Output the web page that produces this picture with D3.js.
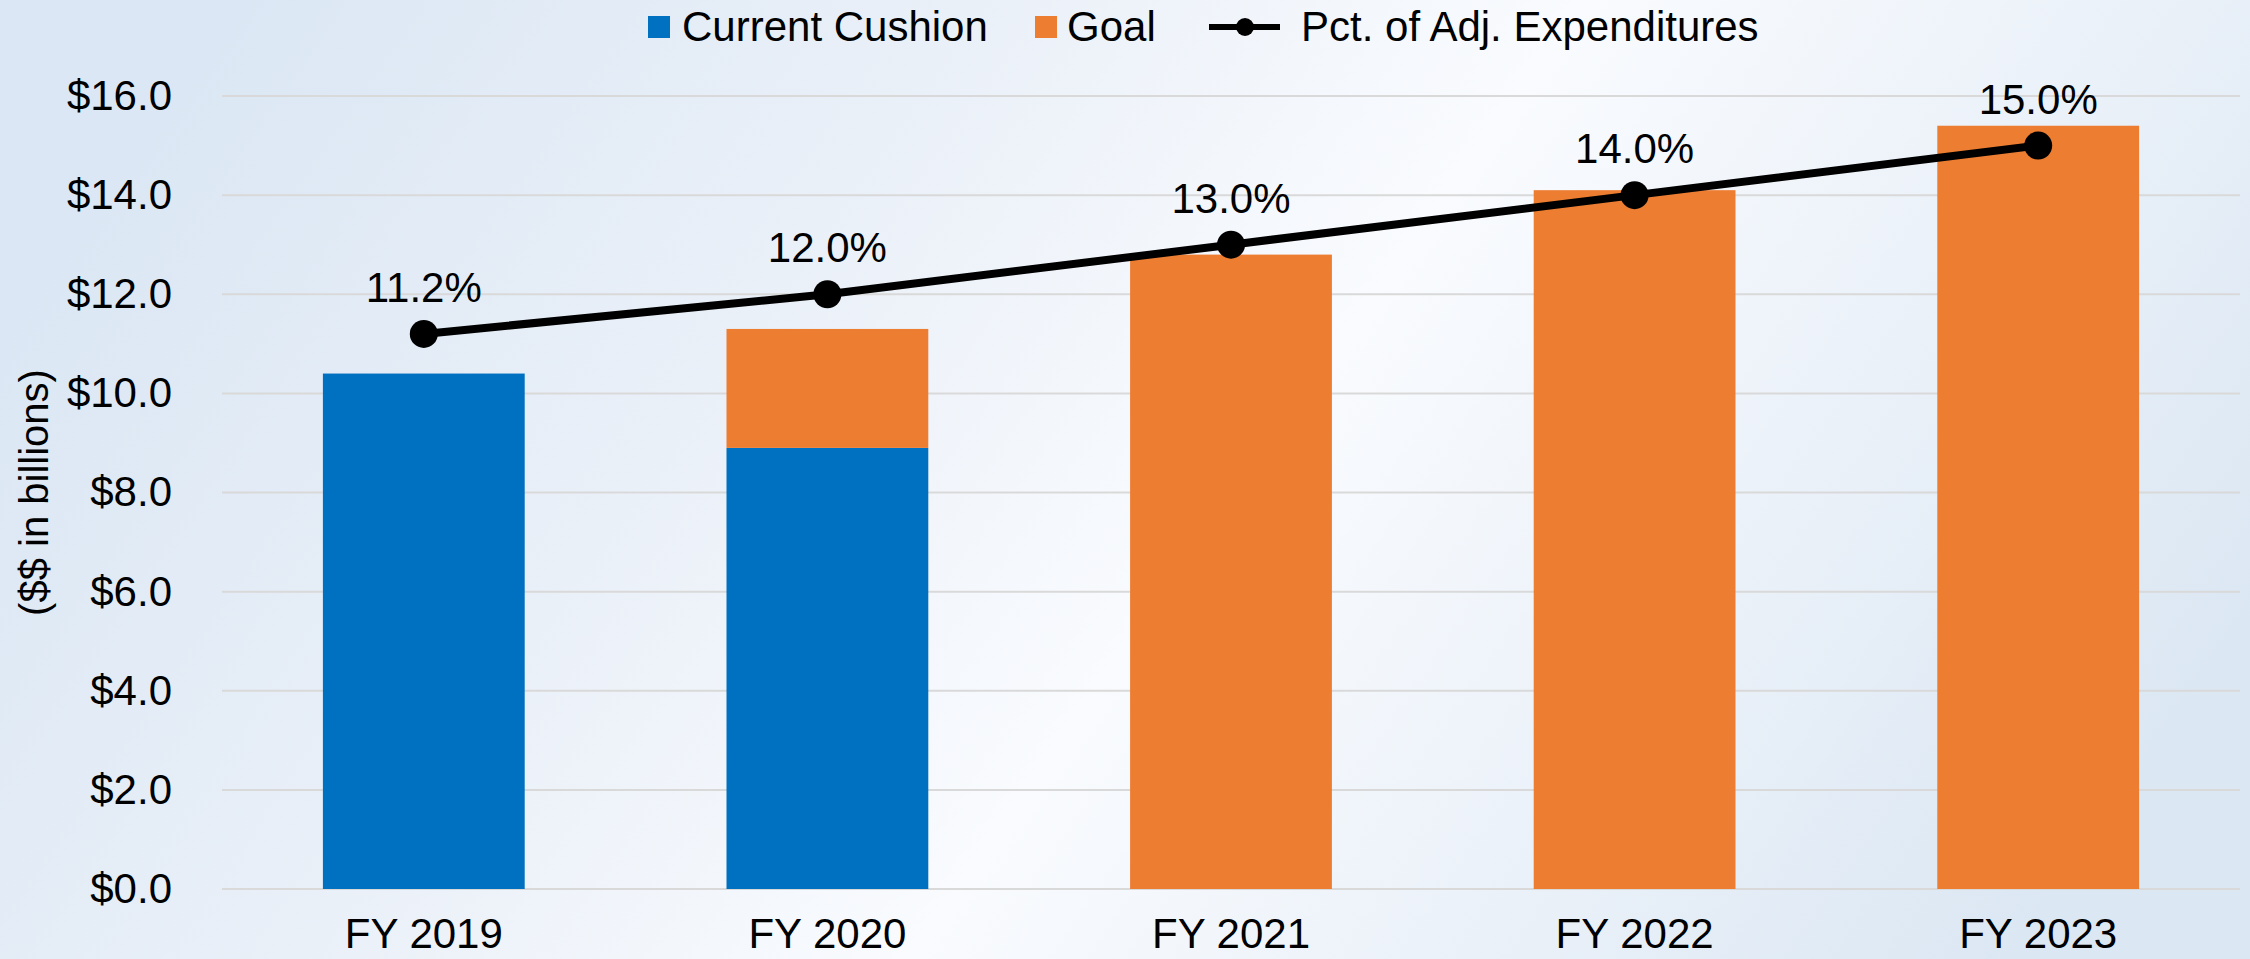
<!DOCTYPE html>
<html>
<head>
<meta charset="utf-8">
<script src="https://cdn.jsdelivr.net/npm/d3@7"></script>
<style>
  html, body { margin: 0; padding: 0; }
  body { width: 2250px; height: 959px; overflow: hidden; }
  svg { display: block; font-family: "Liberation Sans", Arial, sans-serif; }
</style>
</head>
<body>
<div id="graph"></div>
<script>
// chart data
const categories = ['FY 2019', 'FY 2020', 'FY 2021', 'FY 2022', 'FY 2023'];
const currentCushion = [10.4, 8.9, 0, 0, 0];
const goal = [0, 2.4, 12.8, 14.1, 15.4];
const pctAdjExpenditures = [11.2, 12.0, 13.0, 14.0, 15.0];
const yTicks = [0, 2, 4, 6, 8, 10, 12, 14, 16];

const seriesNames = ['Current Cushion', 'Goal'];
const colours = { 'Current Cushion': '#0070c0', 'Goal': '#ed7d31' };

const width = 2250,
  height = 959;
const margin = { top: 96, right: 10, bottom: 70, left: 222 };

var svg = d3.select('#graph')
  .append('svg')
  .attr('width', width)
  .attr('height', height)
  .attr('viewBox', '0 0 ' + width + ' ' + height);

// background: blue at left and right, near white in the middle
var defs = svg.append('defs');
var grad = defs.append('linearGradient')
  .attr('id', 'bg')
  .attr('x1', '0%').attr('y1', '35%')
  .attr('x2', '100%').attr('y2', '65%');
grad.append('stop').attr('offset', '0%').attr('stop-color', '#dbe7f4');
grad.append('stop').attr('offset', '30%').attr('stop-color', '#eaf0f8');
grad.append('stop').attr('offset', '55%').attr('stop-color', '#f9fbfe');
grad.append('stop').attr('offset', '80%').attr('stop-color', '#e9f0f8');
grad.append('stop').attr('offset', '100%').attr('stop-color', '#dbe7f3');

svg.append('rect')
  .attr('width', width)
  .attr('height', height)
  .attr('fill', 'url(#bg)');

const x = d3.scaleBand()
  .domain(categories)
  .range([margin.left, width - margin.right])
  .paddingInner(0.5)
  .paddingOuter(0.25);

const y = d3.scaleLinear()
  .domain([0, 16])
  .range([height - margin.bottom, margin.top]);

// secondary axis for the line, same range and hidden
const y2 = d3.scaleLinear()
  .domain([0, 16])
  .range(y.range());

// gridlines
svg.append('g')
  .selectAll('line')
  .data(yTicks)
  .enter()
  .append('line')
  .attr('x1', margin.left)
  .attr('x2', width - margin.right)
  .attr('y1', d => y(d))
  .attr('y2', d => y(d))
  .attr('stroke', '#d9d9d9')
  .attr('stroke-width', 2);

// y axis labels
var yAxis = svg.append('g')
  .attr('transform', 'translate(' + (margin.left - 50) + ',0)')
  .call(d3.axisLeft(y).tickValues(yTicks).tickSize(0).tickPadding(0).tickFormat(d => '$' + d3.format('.1f')(d)));
yAxis.select('.domain').remove();
yAxis.selectAll('text')
  .attr('font-size', 42)
  .attr('font-family', '"Liberation Sans", Arial, sans-serif')
  .attr('fill', '#000');

svg.append('text')
  .attr('transform', 'translate(34,' + y(8) + ') rotate(-90)')
  .attr('text-anchor', 'middle')
  .attr('dominant-baseline', 'central')
  .attr('font-size', 40)
  .attr('fill', '#000')
  .text('($$ in billions)');

// x axis labels
var xAxis = svg.append('g')
  .attr('transform', 'translate(0,' + y(0) + ')')
  .call(d3.axisBottom(x).tickSize(0).tickPadding(29));
xAxis.select('.domain').remove();
xAxis.selectAll('text')
  .attr('font-size', 42)
  .attr('font-family', '"Liberation Sans", Arial, sans-serif')
  .attr('fill', '#000');

// stacked bars
var dataset = categories.map((c, i) => ({
  category: c,
  'Current Cushion': currentCushion[i],
  'Goal': goal[i]
}));

var stacked = d3.stack().keys(seriesNames)(dataset);

svg.append('g')
  .selectAll('g')
  .data(stacked)
  .enter()
  .append('g')
  .attr('fill', d => colours[d.key])
  .selectAll('rect')
  .data(d => d.filter(p => p[1] - p[0] > 0))
  .enter()
  .append('rect')
  .attr('x', d => x(d.data.category))
  .attr('width', x.bandwidth())
  .attr('y', d => y(d[1]))
  .attr('height', d => y(d[0]) - y(d[1]));

// percentage line
var lineData = categories.map((c, i) => ({ category: c, value: pctAdjExpenditures[i] }));

var line = d3.line()
  .x(d => x(d.category) + x.bandwidth() / 2)
  .y(d => y2(d.value));

svg.append('path')
  .datum(lineData)
  .attr('d', line)
  .attr('fill', 'none')
  .attr('stroke', '#000')
  .attr('stroke-width', 8);

svg.append('g')
  .selectAll('circle')
  .data(lineData)
  .enter()
  .append('circle')
  .attr('cx', d => x(d.category) + x.bandwidth() / 2)
  .attr('cy', d => y2(d.value))
  .attr('r', 14)
  .attr('fill', '#000');

svg.append('g')
  .selectAll('text')
  .data(lineData)
  .enter()
  .append('text')
  .attr('x', d => x(d.category) + x.bandwidth() / 2)
  .attr('y', d => y2(d.value) - 32)
  .attr('text-anchor', 'middle')
  .attr('font-size', 42)
  .attr('fill', '#000')
  .text(d => d3.format('.1f')(d.value) + '%');

// legend
var legend = svg.append('g').attr('font-size', 42).attr('fill', '#000');
const legendY = 27;

legend.append('rect').attr('x', 648).attr('y', legendY - 11).attr('width', 22).attr('height', 22).attr('fill', colours['Current Cushion']);
legend.append('text').attr('x', 682).attr('y', legendY + 14).text('Current Cushion');

legend.append('rect').attr('x', 1035).attr('y', legendY - 11).attr('width', 22).attr('height', 22).attr('fill', colours['Goal']);
legend.append('text').attr('x', 1067).attr('y', legendY + 14).text('Goal');

legend.append('line').attr('x1', 1209).attr('x2', 1280).attr('y1', legendY).attr('y2', legendY).attr('stroke', '#000').attr('stroke-width', 6);
legend.append('circle').attr('cx', 1245).attr('cy', legendY).attr('r', 9).attr('fill', '#000');
legend.append('text').attr('x', 1301).attr('y', legendY + 14).text('Pct. of Adj. Expenditures');
</script>
</body>
</html>
